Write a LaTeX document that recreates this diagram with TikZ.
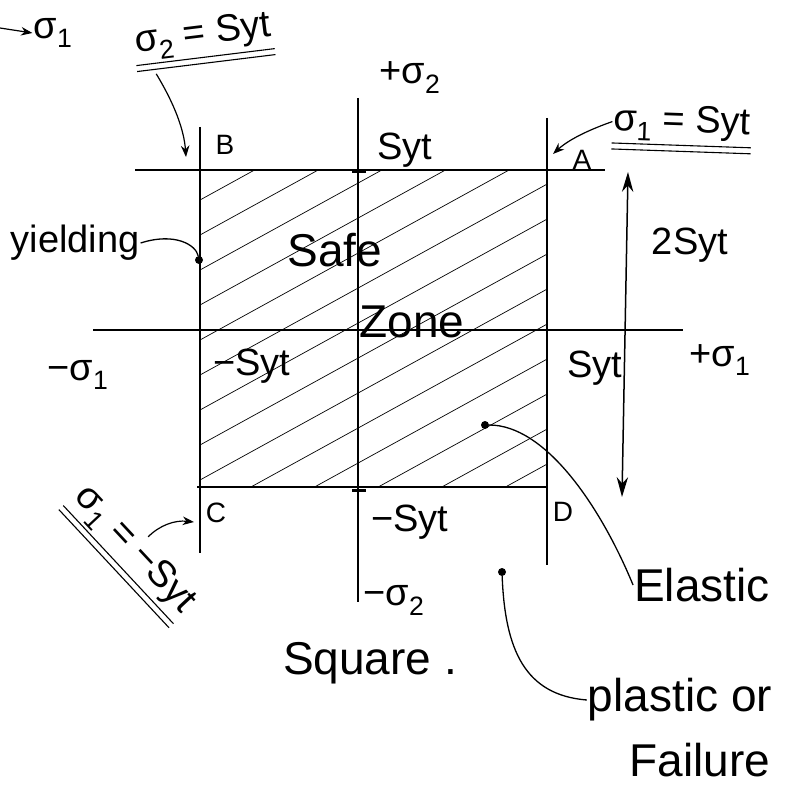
\documentclass[tikz,border=0pt]{standalone}
\usepackage{fontspec}
\setmainfont{Liberation Sans}
\usetikzlibrary{arrows.meta,calc}
\newcommand\sig[1]{σ\textsubscript{#1}}
\tikzset{
  ln/.style={line width=1.5pt},
  hatch/.style={line width=0.7pt},
  ul/.style={line width=1.1pt},
  lbl/.style={font=\fontsize{38}{42}\selectfont, inner sep=1pt},
  big/.style={font=\fontsize{46}{50}\selectfont, inner sep=1pt},
  pt/.style={font=\fontsize{28}{32}\selectfont, inner sep=1pt},
  lead/.style={line width=1.3pt},
  arr/.style={-{Stealth[length=4mm,width=3mm]}, line width=1.2pt},
  dbl/.style={{Stealth[length=7mm,width=4mm]}-{Stealth[length=7mm,width=4mm]}, line width=1.5pt},
  dot/.style={circle, fill, inner sep=0pt, minimum size=8pt},
}
\begin{document}
\begin{tikzpicture}[x=1pt,y=-1pt]
  \useasboundingbox (0,0) rectangle (794,786);
  % hatched safe zone
  \begin{scope}
    \clip (200,170) rectangle (547,487);
    \foreach \k in {0,...,13}
      \draw[hatch] (200,200+35*\k) -- ++(400,-220);
  \end{scope}
  % lines of the square and the axes
  \coordinate (tl) at (135,170);  \coordinate (tr) at (605,170);
  \coordinate (bl) at (197,487);  \coordinate (br) at (547,487);
  \coordinate (lt) at (200,127);  \coordinate (lb) at (200,553);
  \coordinate (rt) at (547,118);  \coordinate (rb) at (547,565);
  \coordinate (yt) at (358,98);   \coordinate (yb) at (358,602);
  \coordinate (xl) at (93,330);   \coordinate (xr) at (683,330);
  \draw[ln] (tl) -- (tr);
  \draw[ln] (bl) -- (br);
  \draw[ln] (lt) -- (lb);
  \draw[ln] (rt) -- (rb);
  \draw[ln] (yt) -- (yb);
  \draw[ln] (xl) -- (xr);
  \draw[line width=3pt] (352,172) -- (366,172);
  \draw[line width=3pt] (352,490) -- (366,490);
  % corner letters and axis values
  \node[pt] (B) at (225,145) {B};
  \node[pt] (A) at (582,160) {A};
  \node[pt] (C) at (216,513) {C};
  \node[pt] (D) at (563,512) {D};
  \node[lbl] (sT) at (405,150) {Syt};
  \node[lbl] (sB) at (410,522) {−Syt};
  \node[lbl] (sL) at (252,366) {−Syt};
  \node[lbl] (sR) at (595,368) {Syt};
  \node[lbl] (pS2) at (410,78) {+\sig{2}};
  \node[lbl] (mS2) at (394,600) {−\sig{2}};
  \node[lbl] (pS1) at (720,360) {+\sig{1}};
  \node[lbl] (mS1) at (78,375) {−\sig{1}};
  \node[big] (safe) at (335,250) {Safe};
  \node[big] (zone) at (412,322) {Zone};
  \node[big] (sq) at (370,663) {Square .};
  % range of the square
  \coordinate (at) at (628,172);
  \coordinate (ab) at (622,497);
  \draw[dbl] (at) -- (ab);
  \node[lbl] (two) at (690,245) {2Syt};
  % boundary lines
  \node[lbl, rotate=7] (s2) at (203,36) {\sig{2} = Syt};
  \draw[ul] ($(s2.base west)!13pt!-90:(s2.base east)$) -- ($(s2.base east)!13pt!90:(s2.base west)$);
  \draw[ul] ($(s2.base west)!19pt!-90:(s2.base east)$) -- ($(s2.base east)!19pt!90:(s2.base west)$);
  \coordinate (bT) at (186,157);
  \draw[arr] ([shift={(20,10)}]s2.south west) .. controls (175,105) and (184,130) .. (bT);
  \node[lbl, rotate=-2] (s1) at (682,124) {\sig{1} = Syt};
  \draw[ul] ($(s1.base west)!13pt!-90:(s1.base east)$) -- ($(s1.base east)!13pt!90:(s1.base west)$);
  \draw[ul] ($(s1.base west)!19pt!-90:(s1.base east)$) -- ($(s1.base east)!19pt!90:(s1.base west)$);
  \coordinate (aT) at (553,154);
  \draw[arr] (s1.west) .. controls (580,133) and (565,143) .. (aT);
  \node[lbl, rotate=-47] (s3) at (134,550) {\sig{1} = −Syt};
  \draw[ul] ($(s3.base west)!13pt!-90:(s3.base east)$) -- ($(s3.base east)!13pt!90:(s3.base west)$);
  \draw[ul] ($(s3.base west)!19pt!-90:(s3.base east)$) -- ($(s3.base east)!19pt!90:(s3.base west)$);
  \coordinate (cT) at (194,522);
  \draw[arr] (s3.north) .. controls (160,525) and (175,520) .. (cT);
  % top left
  \coordinate (o) at (0,28);
  \node[lbl] (s0) at (53,33) {\sig{1}};
  \draw[arr] (o) -- (s0.west);
  % yielding
  \node[dot] (yd) at (199,260) {};
  \node[lbl] (yield) at (75,243) {yielding};
  \draw[lead] (yield.east) .. controls (175,232) and (196,245) .. (yd);
  % elastic and plastic points
  \node[dot] (ed) at (485,425) {};
  \node[big] (el) at (702,585) {Elastic};
  \draw[lead] (ed) .. controls (545,425) and (600,505) .. (el.west);
  \node[dot] (pd) at (502,572) {};
  \node[big] (pl) at (680,700) {plastic or};
  \node[big] (fl) at (700,760) {Failure};
  \draw[lead] (pd) .. controls (505,650) and (525,695) .. (pl.west);
\end{tikzpicture}
\end{document}
